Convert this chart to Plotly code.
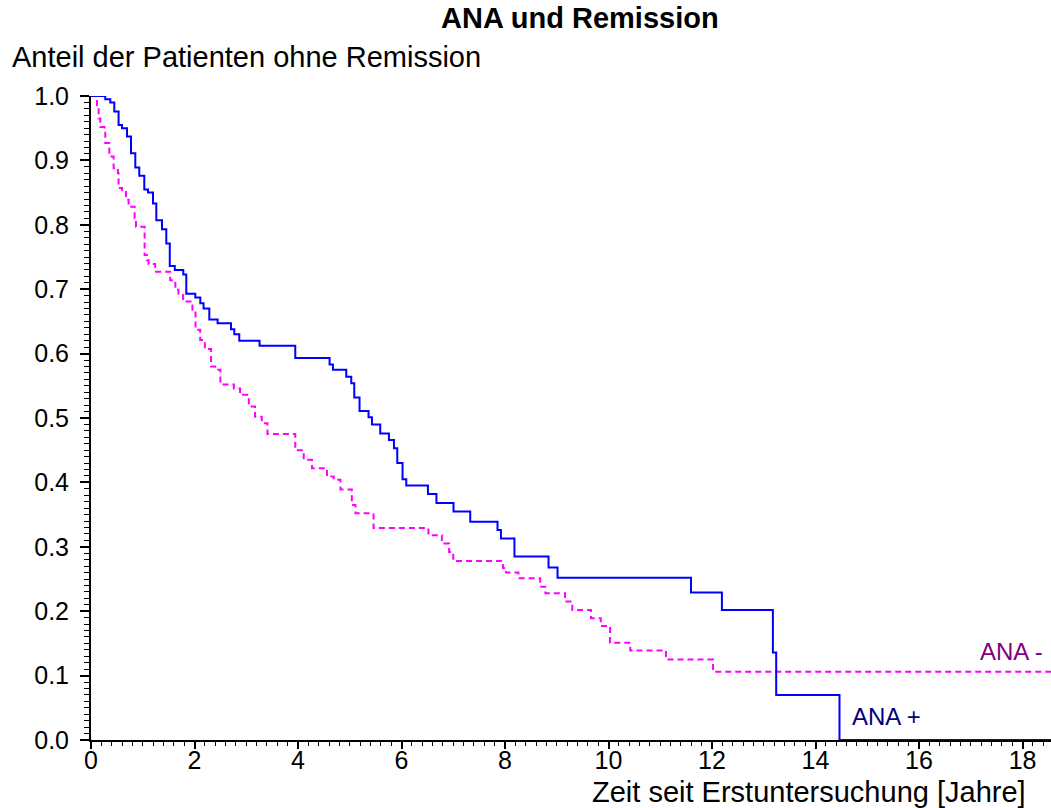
import plotly.graph_objects as go

# Kaplan-Meier estimates: time to remission (years since first examination)
ana_pos_time = [0, 0.276, 0.373, 0.450, 0.533, 0.599, 0.696, 0.773, 0.856, 0.933,
                1.030, 1.101, 1.198, 1.262, 1.372, 1.455, 1.522, 1.619, 1.783, 1.841,
                2.015, 2.112, 2.175, 2.286, 2.446, 2.705, 2.769, 2.865, 3.257, 3.947,
                4.610, 4.675, 4.932, 5.029, 5.087, 5.189, 5.363, 5.429, 5.589, 5.757,
                5.854, 5.918, 6.020, 6.092, 6.511, 6.675, 7.005, 7.328, 7.855, 7.921,
                8.182, 8.841, 9.015, 11.594, 12.191, 13.176, 13.240, 14.463, 18.55]
ana_pos_surv = [1.0, 0.995, 0.990, 0.976, 0.955, 0.950, 0.937, 0.911, 0.889, 0.876,
                0.855, 0.850, 0.833, 0.807, 0.793, 0.771, 0.736, 0.730, 0.723, 0.693,
                0.687, 0.678, 0.670, 0.653, 0.647, 0.638, 0.630, 0.620, 0.612, 0.593,
                0.583, 0.575, 0.564, 0.554, 0.532, 0.511, 0.501, 0.490, 0.476, 0.466,
                0.453, 0.430, 0.405, 0.395, 0.382, 0.368, 0.355, 0.339, 0.326, 0.313,
                0.285, 0.268, 0.252, 0.229, 0.202, 0.136, 0.070, 0.0, 0.0]

ana_neg_time = [0, 0.116, 0.148, 0.18, 0.263, 0.276, 0.354, 0.437, 0.52, 0.533,
                0.60, 0.676, 0.727, 0.843, 0.869, 1.036, 1.08, 1.113, 1.24, 1.53,
                1.63, 1.69, 1.78, 1.96, 2.02, 2.11, 2.20, 2.32, 2.40, 2.50,
                2.76, 2.88, 3.05, 3.17, 3.30, 3.41, 3.947, 4.11, 4.27, 4.56,
                4.69, 4.82, 5.04, 5.11, 5.46, 6.52, 6.78, 6.92, 7.00, 7.96,
                8.02, 8.26, 8.68, 8.78, 9.16, 9.30, 9.66, 9.85, 10.03, 10.42,
                11.11, 12.02, 18.55]
ana_neg_surv = [1.0, 0.986, 0.965, 0.952, 0.945, 0.927, 0.906, 0.888, 0.880, 0.857,
                0.854, 0.839, 0.828, 0.810, 0.797, 0.753, 0.745, 0.739, 0.727, 0.714,
                0.699, 0.691, 0.681, 0.668, 0.637, 0.621, 0.607, 0.580, 0.575, 0.552,
                0.546, 0.536, 0.518, 0.502, 0.492, 0.475, 0.450, 0.435, 0.422, 0.409,
                0.404, 0.389, 0.365, 0.352, 0.329, 0.318, 0.305, 0.292, 0.278, 0.267,
                0.260, 0.251, 0.238, 0.228, 0.215, 0.202, 0.189, 0.177, 0.151, 0.139,
                0.125, 0.106, 0.106]

FONT = "Liberation Sans, Arial, Helvetica, sans-serif"

fig = go.Figure()
fig.add_trace(go.Scatter(x=ana_neg_time, y=ana_neg_surv, mode="lines",
                         line=dict(shape="hv", color="#FF00FF", width=2, dash="6px,4px"),
                         showlegend=False))
fig.add_trace(go.Scatter(x=ana_pos_time, y=ana_pos_surv, mode="lines",
                         line=dict(shape="hv", color="#0000FF", width=2),
                         showlegend=False))

fig.update_layout(
    width=1051, height=808,
    margin=dict(l=91, r=0, t=96, b=68),
    paper_bgcolor="white", plot_bgcolor="white",
    font=dict(family=FONT, color="black"),
    xaxis=dict(range=[0, 18.55], tick0=0, dtick=2, ticks="outside", ticklen=7,
               tickwidth=2, tickcolor="black", showline=True, linecolor="black",
               linewidth=2, showgrid=False, zeroline=False,
               tickfont=dict(size=25, family=FONT, color="black"),
               ticklabelstandoff=-10,
               minor=dict(dtick=0.2, ticks="outside", ticklen=4, tickwidth=1,
                          tickcolor="black", showgrid=False)),
    yaxis=dict(range=[0, 1], tick0=0, dtick=0.1, tickformat=".1f", ticks="outside",
               ticklen=9, tickwidth=2, tickcolor="black", showline=True,
               linecolor="black", linewidth=2, showgrid=False, zeroline=False,
               tickfont=dict(size=25, family=FONT, color="black"),
               ticklabelstandoff=6,
               minor=dict(dtick=0.01, ticks="outside", ticklen=5, tickwidth=1,
                          tickcolor="black", showgrid=False)),
    annotations=[
        dict(text="<b>ANA und Remission</b>", xref="paper", yref="paper",
             x=0.509, y=1.121, xanchor="center", yanchor="middle", showarrow=False,
             font=dict(size=29, family=FONT, color="black")),
        dict(text="Anteil der Patienten ohne Remission", xref="paper", yref="paper",
             x=-0.084, y=1.0606, xanchor="left", yanchor="middle", showarrow=False,
             font=dict(size=29, family=FONT, color="black")),
        dict(text="Zeit seit Erstuntersuchung [Jahre]", xref="paper", yref="paper",
             x=0.976, y=-0.080, xanchor="right", yanchor="middle", showarrow=False,
             font=dict(size=29, family=FONT, color="black")),
        dict(text="ANA -", xref="x", yref="y", x=18.44, y=0.137,
             xanchor="right", yanchor="middle", showarrow=False,
             font=dict(size=24, family=FONT, color="#800080")),
        dict(text="ANA +", xref="x", yref="y", x=14.67, y=0.036,
             xanchor="left", yanchor="middle", showarrow=False,
             font=dict(size=24, family=FONT, color="#000080")),
    ],
)

fig.write_html("out.html")
